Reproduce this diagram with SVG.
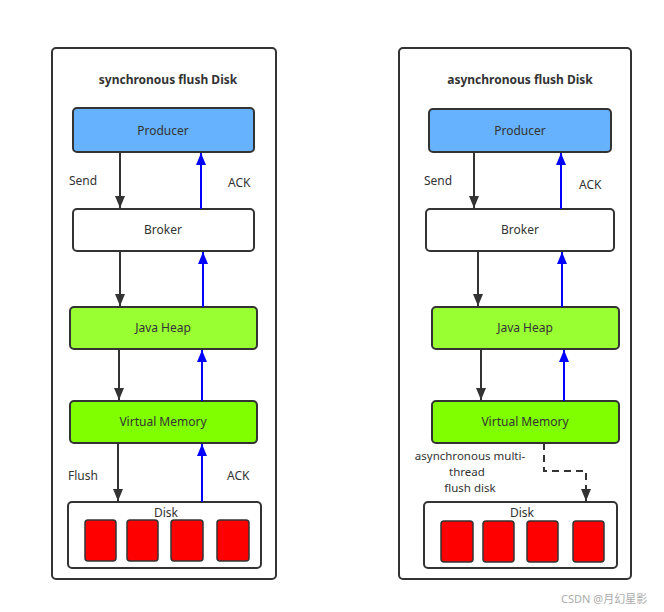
<svg xmlns="http://www.w3.org/2000/svg" width="664" height="612" viewBox="0 0 664 612">
<defs>
<marker id="ad" viewBox="0 0 12 10" refX="12" refY="5" markerWidth="12" markerHeight="10" markerUnits="userSpaceOnUse" orient="auto"><path d="M0,0 L12,5 L0,10 Z" fill="#333"/></marker>
<marker id="ab" viewBox="0 0 12 10" refX="12" refY="5" markerWidth="12" markerHeight="10" markerUnits="userSpaceOnUse" orient="auto"><path d="M0,0 L12,5 L0,10 Z" fill="#0000ff"/></marker>
</defs>
<style>
text{font-family:"Noto Sans","Open Sans",sans-serif;font-size:12px;fill:#333;}
.t{font-weight:bold;}
.c{text-anchor:middle;}
.ml{font-size:11.5px;}
.box{stroke:#333;stroke-width:2;}
.panel{fill:#fff;stroke:#333;stroke-width:2;}
.blk{fill:#ff0000;stroke:#333;stroke-width:1.5;}
.dn{stroke:#333;stroke-width:2;fill:none;}
.up{stroke:#0000ff;stroke-width:2;fill:none;}
</style>
<rect width="664" height="612" fill="#fff"/>
<g id="panel-sync">
<rect class="panel" x="52" y="48" width="224" height="531" rx="4"/>
<text class="t c" x="168" y="84">synchronous flush Disk</text>
</g>
<g id="panel-async">
<rect class="panel" x="399" y="48" width="232" height="531" rx="4"/>
<text class="t c" x="520" y="84">asynchronous flush Disk</text>
</g>
<g id="s-producer"><rect class="box" x="73" y="108" width="181" height="44" rx="4" fill="#66b2ff"/><text class="c" x="163" y="135">Producer</text></g>
<g id="s-broker"><rect class="box" x="73" y="209" width="181" height="42" rx="4" fill="#fff"/><text class="c" x="163" y="234">Broker</text></g>
<g id="s-heap"><rect class="box" x="70" y="307" width="187" height="42" rx="4" fill="#99ff33"/><text class="c" x="163" y="332">Java Heap</text></g>
<g id="s-vm"><rect class="box" x="70" y="401" width="187" height="42" rx="4" fill="#80ff00"/><text class="c" x="163" y="426">Virtual Memory</text></g>
<g id="s-disk"><rect class="box" x="68" y="502" width="193" height="66" rx="4" fill="#fff"/><text class="c" x="166" y="517">Disk</text>
<rect class="blk" x="85" y="520" width="31" height="41" rx="3"/><rect class="blk" x="127" y="520" width="31" height="41" rx="3"/><rect class="blk" x="171" y="520" width="32" height="41" rx="3"/><rect class="blk" x="217" y="520" width="32" height="41" rx="3"/></g>
<g id="a-producer"><rect class="box" x="429" y="109" width="182" height="43" rx="4" fill="#66b2ff"/><text class="c" x="520" y="135">Producer</text></g>
<g id="a-broker"><rect class="box" x="426" y="209" width="188" height="42" rx="4" fill="#fff"/><text class="c" x="520" y="234">Broker</text></g>
<g id="a-heap"><rect class="box" x="432" y="307" width="187" height="42" rx="4" fill="#99ff33"/><text class="c" x="525" y="332">Java Heap</text></g>
<g id="a-vm"><rect class="box" x="432" y="401" width="187" height="42" rx="4" fill="#80ff00"/><text class="c" x="525" y="426">Virtual Memory</text></g>
<g id="a-disk"><rect class="box" x="424" y="502" width="193" height="66" rx="4" fill="#fff"/><text class="c" x="522" y="517">Disk</text>
<rect class="blk" x="441" y="521" width="32" height="41" rx="3"/><rect class="blk" x="483" y="521" width="31" height="41" rx="3"/><rect class="blk" x="527" y="521" width="31" height="41" rx="3"/><rect class="blk" x="573" y="521" width="31" height="41" rx="3"/></g>
<g id="connectors">
<line class="dn" x1="120" y1="152" x2="120" y2="208" marker-end="url(#ad)"/>
<line class="up" x1="201" y1="209" x2="201" y2="153" marker-end="url(#ab)"/>
<line class="dn" x1="120" y1="251" x2="120" y2="306" marker-end="url(#ad)"/>
<line class="up" x1="203" y1="307" x2="203" y2="252" marker-end="url(#ab)"/>
<line class="dn" x1="119" y1="349" x2="119" y2="400" marker-end="url(#ad)"/>
<line class="up" x1="202" y1="401" x2="202" y2="350" marker-end="url(#ab)"/>
<line class="dn" x1="118" y1="443" x2="118" y2="501" marker-end="url(#ad)"/>
<line class="up" x1="202" y1="502" x2="202" y2="444" marker-end="url(#ab)"/>
<line class="dn" x1="474" y1="152" x2="474" y2="208" marker-end="url(#ad)"/>
<line class="up" x1="561" y1="209" x2="561" y2="153" marker-end="url(#ab)"/>
<line class="dn" x1="478" y1="251" x2="478" y2="306" marker-end="url(#ad)"/>
<line class="up" x1="562" y1="307" x2="562" y2="252" marker-end="url(#ab)"/>
<line class="dn" x1="481" y1="349" x2="481" y2="400" marker-end="url(#ad)"/>
<line class="up" x1="564" y1="401" x2="564" y2="350" marker-end="url(#ab)"/>
<path class="dn" d="M544,443 L544,471 L586,471 L586,501" stroke-dasharray="7,5" marker-end="url(#ad)"/>
<text x="69" y="185">Send</text>
<text x="228" y="187">ACK</text>
<text x="68" y="480">Flush</text>
<text x="227" y="480">ACK</text>
<text x="424" y="185">Send</text>
<text x="579" y="189">ACK</text>
<text class="c ml" x="470" y="460">asynchronous multi-<tspan x="467" dy="15.8">thread</tspan><tspan x="470" dy="15.8">flush disk</tspan></text>
</g>
<text x="561" y="603" style="font-family:'Noto Sans','Noto Sans CJK SC',sans-serif;font-size:11px;fill:#aaa">CSDN @月幻星影</text>
</svg>
